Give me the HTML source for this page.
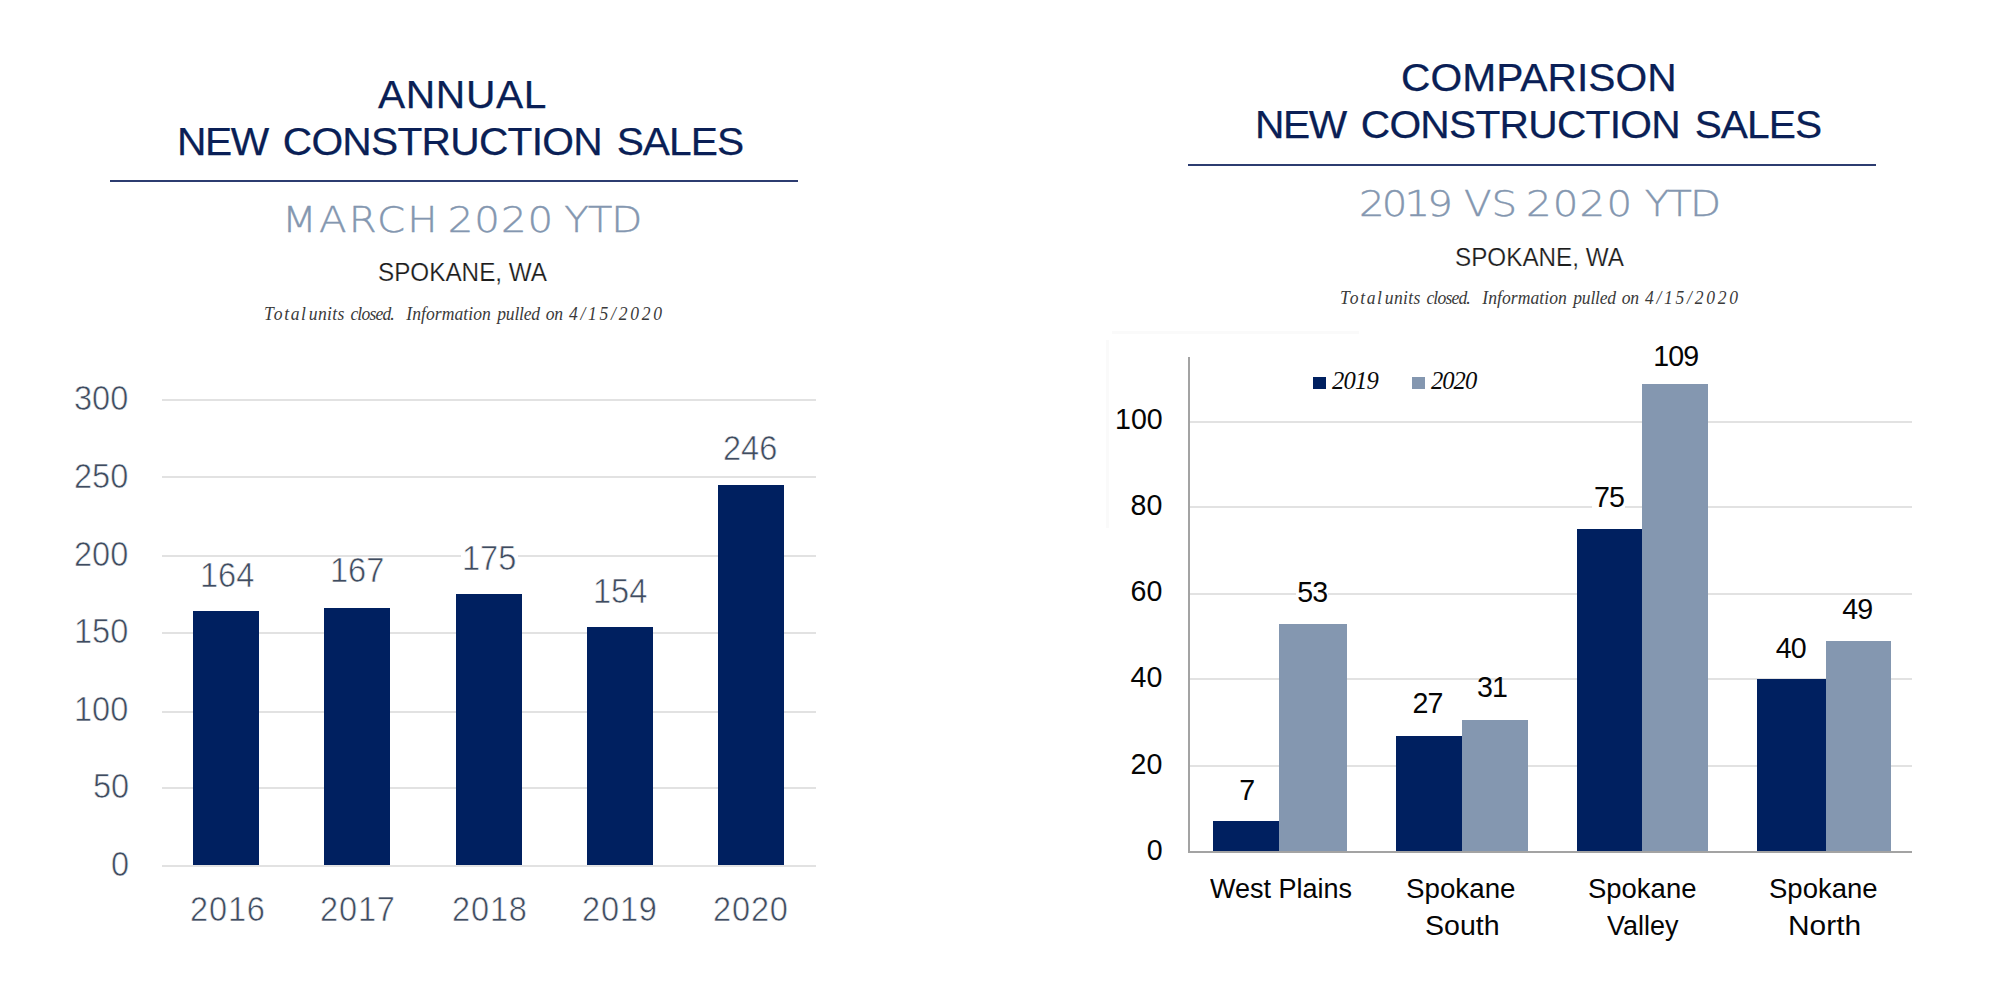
<!DOCTYPE html>
<html lang="en">
<head>
<meta charset="utf-8">
<title>New Construction Sales - Spokane, WA</title>
<style>
html,body{margin:0;padding:0;background:#fff;}
body{width:2000px;height:992px;position:relative;overflow:hidden;font-family:"Liberation Sans",sans-serif;}
.t{position:absolute;white-space:nowrap;line-height:1;margin:0;padding:0;transform-origin:0 0;}
.g{position:absolute;}
.grid{position:absolute;height:2px;background:#e2e2e2;}
.bar{position:absolute;background:#002060;}
.bar2{position:absolute;background:#8497b0;}
</style>
</head>
<body>
<!-- left chart -->
<section class="panel" aria-label="Annual new construction sales">
<div class="g" style="left:109.9px;top:179.9px;width:688.1px;height:2.1px;background:#2c3c70"></div>
<div class="grid" style="left:161.8px;top:864.7px;width:654.4px"></div>
<div class="grid" style="left:161.8px;top:787.0px;width:654.4px"></div>
<div class="grid" style="left:161.8px;top:710.9px;width:654.4px"></div>
<div class="grid" style="left:161.8px;top:631.7px;width:654.4px"></div>
<div class="grid" style="left:161.8px;top:554.9px;width:654.4px"></div>
<div class="grid" style="left:161.8px;top:475.7px;width:654.4px"></div>
<div class="grid" style="left:161.8px;top:399.1px;width:654.4px"></div>
<div class="g" style="left:461px;top:553px;width:57px;height:6px;background:#fff"></div>
<div class="bar" style="left:193.2px;top:610.7px;width:65.7px;height:253.9px"></div>
<div class="bar" style="left:324.4px;top:607.9px;width:65.7px;height:256.7px"></div>
<div class="bar" style="left:455.9px;top:594.0px;width:65.7px;height:270.6px"></div>
<div class="bar" style="left:587.0px;top:627.0px;width:65.7px;height:237.6px"></div>
<div class="bar" style="left:718.1px;top:484.9px;width:65.7px;height:379.7px"></div>
<div id="l1" class="t" style="left:377.59px;top:76.41px;font-family:'Liberation Sans', sans-serif;font-size:38.80px;color:#0a1f56;letter-spacing:0.598px;transform:scaleX(1.0500);-webkit-text-stroke:0.25px #0a1f56;">ANNUAL</div>
<div id="l2" class="t" style="left:176.75px;top:122.81px;font-family:'Liberation Sans', sans-serif;font-size:38.80px;color:#0a1f56;transform:scaleX(1.0500);-webkit-text-stroke:0.25px #0a1f56;"><span id="l2w0" class="w" style="letter-spacing:-1.311px;">NEW</span> <span id="l2w1" class="w" style="margin-left:3.339px;letter-spacing:-0.714px;">CONSTRUCTION</span> <span id="l2w2" class="w" style="margin-left:3.304px;letter-spacing:-0.940px;">SALES</span></div>
<div id="l3" class="t" style="left:281.54px;top:202.01px;font-family:'DejaVu Sans', sans-serif;font-size:36.00px;color:#8497b0;transform:scaleX(1.1200);-webkit-text-stroke:0.40px #8497b0;font-weight:200;"><span id="l3w0" class="w" style="letter-spacing:1.962px;">MARCH</span> <span id="l3w1" class="w" style="margin-left:-4.400px;letter-spacing:0.819px;">2020</span> <span id="l3w2" class="w" style="margin-left:-2.371px;letter-spacing:-0.990px;">YTD</span></div>
<div id="l4" class="t" style="left:378.45px;top:259.41px;font-family:'Liberation Sans', sans-serif;font-size:26.20px;color:#1c1c1c;transform:scaleX(0.9265);-webkit-text-stroke:0.20px #fff;">SPOKANE, WA</div>
<div id="l5" class="t" style="left:263.70px;top:304.81px;font-family:'Liberation Serif', serif;font-size:18.50px;color:#3a3a3a;transform:scaleX(0.9500);font-style:italic;"><span id="l5w0" class="w" style="letter-spacing:1.687px;">Total</span> <span id="l5w1" class="w" style="margin-left:-3.279px;letter-spacing:0.323px;">units</span> <span id="l5w2" class="w" style="margin-left:1.520px;letter-spacing:-0.860px;">closed.</span> <span id="l5w3" class="w" style="margin-left:8.323px;letter-spacing:0.067px;">Information</span> <span id="l5w4" class="w" style="margin-left:2.087px;letter-spacing:-0.230px;">pulled</span> <span id="l5w5" class="w" style="margin-left:1.618px;letter-spacing:-0.304px;">on</span> <span id="l5w6" class="w" style="margin-left:1.782px;letter-spacing:2.856px;">4/15/2020</span></div>
<div id="ly0" class="t" style="left:111.34px;top:845.90px;font-family:'Liberation Sans', sans-serif;font-size:35.00px;color:#3f4c60;transform:scaleX(0.9300);-webkit-text-stroke:0.60px #fff;">0</div>
<div id="ly50" class="t" style="left:93.08px;top:768.31px;font-family:'Liberation Sans', sans-serif;font-size:35.00px;color:#3f4c60;transform:scaleX(0.9300);-webkit-text-stroke:0.60px #fff;">50</div>
<div id="ly100" class="t" style="left:74.25px;top:690.71px;font-family:'Liberation Sans', sans-serif;font-size:35.00px;color:#3f4c60;transform:scaleX(0.9300);-webkit-text-stroke:0.60px #fff;">100</div>
<div id="ly150" class="t" style="left:74.25px;top:613.10px;font-family:'Liberation Sans', sans-serif;font-size:35.00px;color:#3f4c60;transform:scaleX(0.9300);-webkit-text-stroke:0.60px #fff;">150</div>
<div id="ly200" class="t" style="left:74.25px;top:535.51px;font-family:'Liberation Sans', sans-serif;font-size:35.00px;color:#3f4c60;transform:scaleX(0.9300);-webkit-text-stroke:0.60px #fff;">200</div>
<div id="ly250" class="t" style="left:74.25px;top:457.90px;font-family:'Liberation Sans', sans-serif;font-size:35.00px;color:#3f4c60;transform:scaleX(0.9300);-webkit-text-stroke:0.60px #fff;">250</div>
<div id="ly300" class="t" style="left:74.25px;top:380.31px;font-family:'Liberation Sans', sans-serif;font-size:35.00px;color:#3f4c60;transform:scaleX(0.9300);-webkit-text-stroke:0.60px #fff;">300</div>
<div id="lv2016" class="t" style="left:200.03px;top:557.21px;font-family:'Liberation Sans', sans-serif;font-size:35.00px;color:#3f4c60;transform:scaleX(0.9300);-webkit-text-stroke:0.60px #fff;">164</div>
<div id="lx2016" class="t" style="left:189.78px;top:891.01px;font-family:'Liberation Sans', sans-serif;font-size:35.00px;color:#3f4c60;letter-spacing:0.900px;transform:scaleX(0.9300);-webkit-text-stroke:0.60px #fff;">2016</div>
<div id="lv2017" class="t" style="left:330.48px;top:552.40px;font-family:'Liberation Sans', sans-serif;font-size:35.00px;color:#3f4c60;transform:scaleX(0.9300);-webkit-text-stroke:0.60px #fff;">167</div>
<div id="lx2017" class="t" style="left:319.69px;top:891.01px;font-family:'Liberation Sans', sans-serif;font-size:35.00px;color:#3f4c60;letter-spacing:0.900px;transform:scaleX(0.9300);-webkit-text-stroke:0.60px #fff;">2017</div>
<div id="lv2018" class="t" style="left:461.61px;top:540.01px;font-family:'Liberation Sans', sans-serif;font-size:35.00px;color:#3f4c60;transform:scaleX(0.9300);-webkit-text-stroke:0.60px #fff;">175</div>
<div id="lx2018" class="t" style="left:451.97px;top:891.01px;font-family:'Liberation Sans', sans-serif;font-size:35.00px;color:#3f4c60;letter-spacing:0.900px;transform:scaleX(0.9300);-webkit-text-stroke:0.60px #fff;">2018</div>
<div id="lv2019" class="t" style="left:593.08px;top:572.81px;font-family:'Liberation Sans', sans-serif;font-size:35.00px;color:#3f4c60;transform:scaleX(0.9300);-webkit-text-stroke:0.60px #fff;">154</div>
<div id="lx2019" class="t" style="left:582.31px;top:891.01px;font-family:'Liberation Sans', sans-serif;font-size:35.00px;color:#3f4c60;letter-spacing:0.900px;transform:scaleX(0.9300);-webkit-text-stroke:0.60px #fff;">2019</div>
<div id="lv2020" class="t" style="left:723.17px;top:429.60px;font-family:'Liberation Sans', sans-serif;font-size:35.00px;color:#3f4c60;transform:scaleX(0.9300);-webkit-text-stroke:0.60px #fff;">246</div>
<div id="lx2020" class="t" style="left:713.30px;top:891.01px;font-family:'Liberation Sans', sans-serif;font-size:35.00px;color:#3f4c60;letter-spacing:0.900px;transform:scaleX(0.9300);-webkit-text-stroke:0.60px #fff;">2020</div>
</section>
<!-- right chart -->
<section class="panel" aria-label="Comparison new construction sales">
<div class="g" style="left:1187.8px;top:163.9px;width:688.2px;height:2.1px;background:#2c3c70"></div>
<div class="g" style="left:1112px;top:331px;width:247px;height:3px;background:#fafafa"></div>
<div class="g" style="left:1106px;top:340px;width:3px;height:188px;background:#fafafa"></div>
<div class="grid" style="left:1189.2px;top:765.3px;width:723.3px"></div>
<div class="grid" style="left:1189.2px;top:678.0px;width:723.3px"></div>
<div class="grid" style="left:1189.2px;top:593.2px;width:723.3px"></div>
<div class="grid" style="left:1189.2px;top:505.7px;width:723.3px"></div>
<div class="grid" style="left:1189.2px;top:421.0px;width:723.3px"></div>
<div class="g" style="left:1296px;top:592px;width:32px;height:5px;background:#fff"></div>
<div class="g" style="left:1592px;top:504px;width:33px;height:5px;background:#fff"></div>
<div class="bar" style="left:1213.2px;top:821.2px;width:65.6px;height:29.8px"></div>
<div class="bar2" style="left:1278.8px;top:624.0px;width:68.0px;height:227.0px"></div>
<div class="bar" style="left:1396.4px;top:736.4px;width:65.6px;height:114.6px"></div>
<div class="bar2" style="left:1462.0px;top:720.2px;width:65.6px;height:130.8px"></div>
<div class="bar" style="left:1576.6px;top:528.6px;width:65.8px;height:322.4px"></div>
<div class="bar2" style="left:1642.4px;top:384.0px;width:65.4px;height:467.0px"></div>
<div class="bar" style="left:1757.2px;top:679.0px;width:68.4px;height:172.0px"></div>
<div class="bar2" style="left:1825.6px;top:640.8px;width:65.4px;height:210.2px"></div>
<div class="g" style="left:1188.1px;top:357px;width:2px;height:495.8px;background:#a3a3a3"></div>
<div class="g" style="left:1188.1px;top:850.8px;width:724.4px;height:2px;background:#a3a3a3"></div>
<div class="g" style="left:1313.0px;top:376.5px;width:12.8px;height:12.3px;background:#002060"></div>
<div class="g" style="left:1412.0px;top:376.5px;width:12.8px;height:12.3px;background:#8497b0"></div>
<div id="r1" class="t" style="left:1400.63px;top:59.41px;font-family:'Liberation Sans', sans-serif;font-size:38.80px;color:#0a1f56;letter-spacing:0.033px;transform:scaleX(1.0500);-webkit-text-stroke:0.25px #0a1f56;">COMPARISON</div>
<div id="r2" class="t" style="left:1254.50px;top:105.81px;font-family:'Liberation Sans', sans-serif;font-size:38.80px;color:#0a1f56;transform:scaleX(1.0500);-webkit-text-stroke:0.25px #0a1f56;"><span id="r2w0" class="w" style="letter-spacing:-1.311px;">NEW</span> <span id="r2w1" class="w" style="margin-left:3.339px;letter-spacing:-0.714px;">CONSTRUCTION</span> <span id="r2w2" class="w" style="margin-left:3.304px;letter-spacing:-0.940px;">SALES</span></div>
<div id="r3" class="t" style="left:1358.60px;top:186.31px;font-family:'DejaVu Sans', sans-serif;font-size:36.00px;color:#8497b0;transform:scaleX(1.1200);-webkit-text-stroke:0.40px #8497b0;font-weight:200;"><span id="r3w0" class="w" style="letter-spacing:-2.585px;">2019</span> <span id="r3w1" class="w" style="margin-left:0.963px;letter-spacing:-0.112px;">VS</span> <span id="r3w2" class="w" style="margin-left:-3.365px;letter-spacing:1.043px;">2020</span> <span id="r3w3" class="w" style="margin-left:-1.275px;letter-spacing:-1.703px;">YTD</span></div>
<div id="r4" class="t" style="left:1454.77px;top:244.11px;font-family:'Liberation Sans', sans-serif;font-size:26.20px;color:#1c1c1c;transform:scaleX(0.9260);-webkit-text-stroke:0.20px #fff;">SPOKANE, WA</div>
<div id="r5" class="t" style="left:1339.70px;top:289.21px;font-family:'Liberation Serif', serif;font-size:18.50px;color:#3a3a3a;transform:scaleX(0.9500);font-style:italic;"><span id="r5w0" class="w" style="letter-spacing:1.687px;">Total</span> <span id="r5w1" class="w" style="margin-left:-3.279px;letter-spacing:0.323px;">units</span> <span id="r5w2" class="w" style="margin-left:1.520px;letter-spacing:-0.860px;">closed.</span> <span id="r5w3" class="w" style="margin-left:8.323px;letter-spacing:0.067px;">Information</span> <span id="r5w4" class="w" style="margin-left:2.087px;letter-spacing:-0.230px;">pulled</span> <span id="r5w5" class="w" style="margin-left:1.618px;letter-spacing:-0.304px;">on</span> <span id="r5w6" class="w" style="margin-left:1.782px;letter-spacing:2.856px;">4/15/2020</span></div>
<div id="ry0" class="t" style="left:1146.68px;top:835.91px;font-family:'Liberation Sans', sans-serif;font-size:28.60px;color:#050505;">0</div>
<div id="ry20" class="t" style="left:1130.50px;top:749.50px;font-family:'Liberation Sans', sans-serif;font-size:28.60px;color:#050505;">20</div>
<div id="ry40" class="t" style="left:1130.50px;top:663.41px;font-family:'Liberation Sans', sans-serif;font-size:28.60px;color:#050505;">40</div>
<div id="ry60" class="t" style="left:1130.50px;top:576.91px;font-family:'Liberation Sans', sans-serif;font-size:28.60px;color:#050505;">60</div>
<div id="ry80" class="t" style="left:1130.50px;top:491.11px;font-family:'Liberation Sans', sans-serif;font-size:28.60px;color:#050505;">80</div>
<div id="ry100" class="t" style="left:1115.03px;top:405.31px;font-family:'Liberation Sans', sans-serif;font-size:28.60px;color:#050505;">100</div>
<div id="rv0a" class="t" style="left:1239.25px;top:775.80px;font-family:'Liberation Sans', sans-serif;font-size:28.60px;color:#050505;letter-spacing:-0.900px;">7</div>
<div id="rv0b" class="t" style="left:1297.16px;top:578.00px;font-family:'Liberation Sans', sans-serif;font-size:28.60px;color:#050505;letter-spacing:-0.900px;">53</div>
<div id="rv1a" class="t" style="left:1412.46px;top:689.41px;font-family:'Liberation Sans', sans-serif;font-size:28.60px;color:#050505;letter-spacing:-0.900px;">27</div>
<div id="rv1b" class="t" style="left:1477.05px;top:672.80px;font-family:'Liberation Sans', sans-serif;font-size:28.60px;color:#050505;letter-spacing:-0.900px;">31</div>
<div id="rv2a" class="t" style="left:1594.10px;top:483.00px;font-family:'Liberation Sans', sans-serif;font-size:28.60px;color:#050505;letter-spacing:-0.900px;">75</div>
<div id="rv2b" class="t" style="left:1653.37px;top:342.41px;font-family:'Liberation Sans', sans-serif;font-size:28.60px;color:#050505;letter-spacing:-0.900px;">109</div>
<div id="rv3a" class="t" style="left:1775.81px;top:633.61px;font-family:'Liberation Sans', sans-serif;font-size:28.60px;color:#050505;letter-spacing:-0.900px;">40</div>
<div id="rv3b" class="t" style="left:1842.22px;top:595.21px;font-family:'Liberation Sans', sans-serif;font-size:28.60px;color:#050505;letter-spacing:-0.900px;">49</div>
<div id="rx0a" class="t" style="left:1209.82px;top:874.00px;font-family:'Liberation Sans', sans-serif;font-size:28.40px;color:#050505;transform:scaleX(0.9509);">West Plains</div>
<div id="rx1a" class="t" style="left:1406.19px;top:874.00px;font-family:'Liberation Sans', sans-serif;font-size:28.40px;color:#050505;transform:scaleX(0.9769);">Spokane</div>
<div id="rx1b" class="t" style="left:1425.10px;top:911.21px;font-family:'Liberation Sans', sans-serif;font-size:28.40px;color:#050505;transform:scaleX(1.0053);">South</div>
<div id="rx2a" class="t" style="left:1587.89px;top:874.00px;font-family:'Liberation Sans', sans-serif;font-size:28.40px;color:#050505;transform:scaleX(0.9674);">Spokane</div>
<div id="rx2b" class="t" style="left:1607.23px;top:911.21px;font-family:'Liberation Sans', sans-serif;font-size:28.40px;color:#050505;transform:scaleX(0.9490);">Valley</div>
<div id="rx3a" class="t" style="left:1769.06px;top:874.00px;font-family:'Liberation Sans', sans-serif;font-size:28.40px;color:#050505;transform:scaleX(0.9684);">Spokane</div>
<div id="rx3b" class="t" style="left:1788.43px;top:911.21px;font-family:'Liberation Sans', sans-serif;font-size:28.40px;color:#050505;transform:scaleX(1.0531);">North</div>
<div id="lg1" class="t" style="left:1331.97px;top:369.30px;font-family:'Liberation Serif', serif;font-size:24.60px;color:#0a0a0a;letter-spacing:-0.746px;font-style:italic;">2019</div>
<div id="lg2" class="t" style="left:1431.00px;top:369.30px;font-family:'Liberation Serif', serif;font-size:24.60px;color:#0a0a0a;letter-spacing:-1.000px;font-style:italic;">2020</div>
</section>
</body>
</html>
